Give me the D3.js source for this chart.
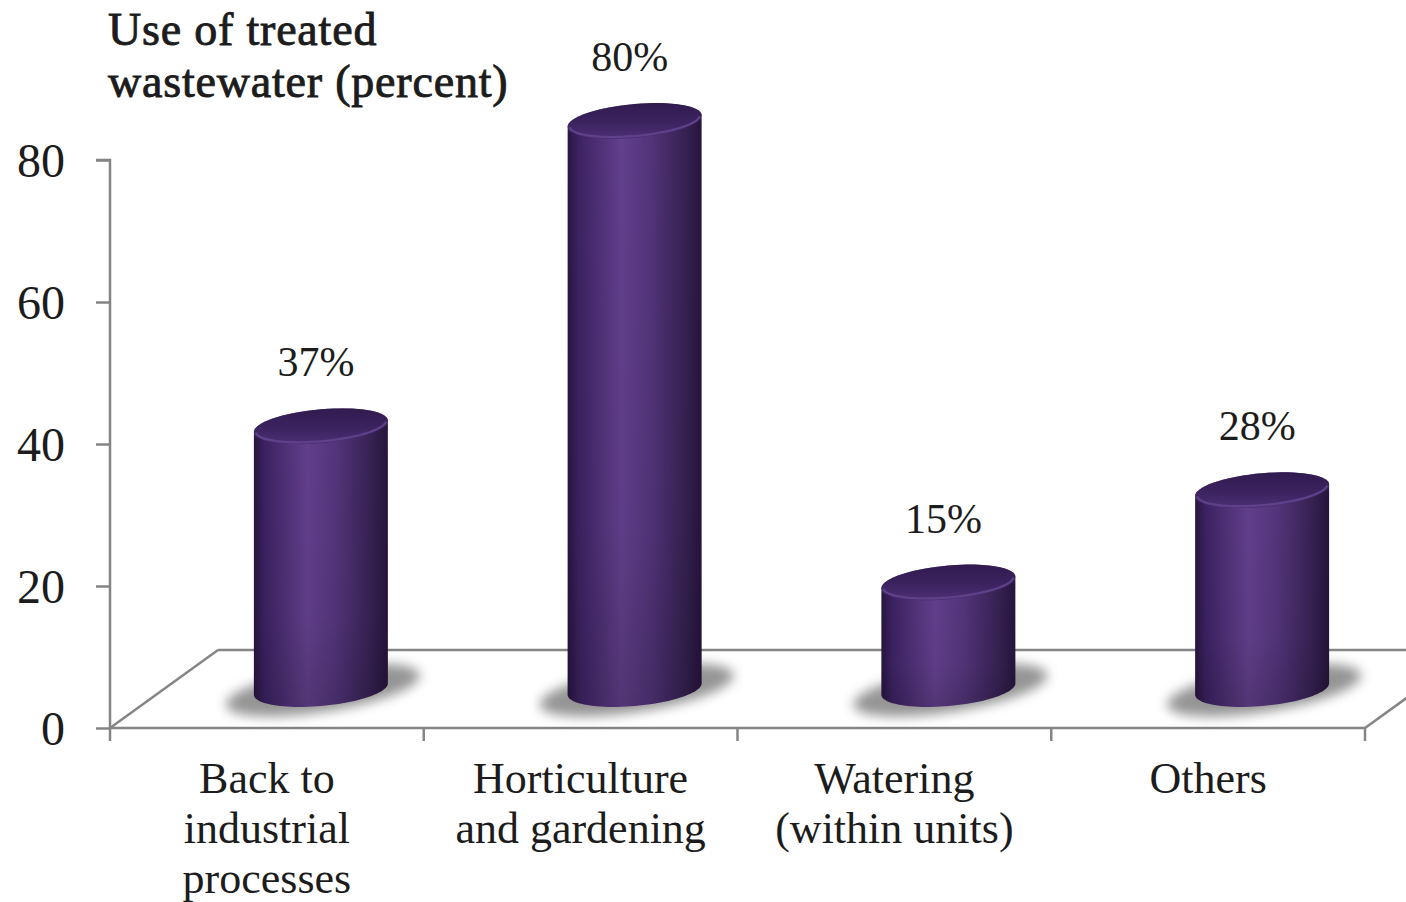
<!DOCTYPE html>
<html>
<head>
<meta charset="utf-8">
<script src="https://cdn.jsdelivr.net/npm/d3@7"></script>
<style>
  html, body { margin: 0; padding: 0; background: #ffffff; }
  svg { display: block; }
  text { font-family: "Liberation Serif", "DejaVu Serif", serif; fill: #1c1c1c; }
</style>
</head>
<body>
<svg id="chart" width="1406" height="902"></svg>
<script>
// Share of treated wastewater by use
const categories = ["Back to industrial processes", "Horticulture and gardening", "Watering (within units)", "Others"];
const categoryLines = [["Back to", "industrial", "processes"], ["Horticulture", "and gardening"], ["Watering", "(within units)"], ["Others"]];
const values = [37, 80, 15, 28];
const valueLabels = ["37%", "80%", "15%", "28%"];
const yTicks = [0, 20, 40, 60, 80];
const titleLines = ["Use of treated", "wastewater (percent)"];

const svg = d3.select("#chart");

// plot frame: front edge of the floor and the vertical axis
const left = 110, right = 1365, floorY = 728, topY = 160;
// depth vector of the 3D floor (front edge -> back edge)
const depth = { dx: 108, dy: -78 };

const x = d3.scaleBand().domain(categories).range([left, right]).padding(0);
const y = d3.scaleLinear().domain([0, 80]).range([floorY, topY]);

const axisColor = "#858585";
const defs = svg.append("defs");

// cylinder body shading (horizontal)
const bodyGrad = defs.append("linearGradient").attr("id", "bodyGrad")
  .attr("x1", "0%").attr("x2", "100%").attr("y1", "0%").attr("y2", "0%");
[["0%", "#28153f"], ["8%", "#3c2262"], ["40%", "#62408c"], ["62%", "#52347a"], ["88%", "#362151"], ["100%", "#26143c"]]
  .forEach(([o, c]) => bodyGrad.append("stop").attr("offset", o).attr("stop-color", c));

// slight darkening toward the base
const bodyShade = defs.append("linearGradient").attr("id", "bodyShade")
  .attr("x1", "0%").attr("x2", "0%").attr("y1", "0%").attr("y2", "100%");
bodyShade.append("stop").attr("offset", "0%").attr("stop-color", "#000").attr("stop-opacity", 0);
bodyShade.append("stop").attr("offset", "70%").attr("stop-color", "#000").attr("stop-opacity", 0.04);
bodyShade.append("stop").attr("offset", "100%").attr("stop-color", "#000").attr("stop-opacity", 0.16);

// top face shading
const topGrad = defs.append("linearGradient").attr("id", "topGrad")
  .attr("x1", "0%").attr("x2", "0%").attr("y1", "0%").attr("y2", "100%");
[["0%", "#301b4e"], ["60%", "#3d2462"], ["100%", "#4d3075"]]
  .forEach(([o, c]) => topGrad.append("stop").attr("offset", o).attr("stop-color", c));

// soft floor shadow
const blur = defs.append("filter").attr("id", "shadowBlur")
  .attr("x", "-50%").attr("y", "-100%").attr("width", "200%").attr("height", "300%");
blur.append("feGaussianBlur").attr("stdDeviation", 6);

const glow = defs.append("filter").attr("id", "glow")
  .attr("x", "-20%").attr("y", "-50%").attr("width", "140%").attr("height", "200%");
glow.append("feGaussianBlur").attr("stdDeviation", 3);

// ---- floor (3D base plane) ----
const floor = svg.append("g").attr("stroke", axisColor).attr("stroke-width", 2.5).attr("fill", "none");
floor.append("line").attr("x1", left).attr("y1", floorY).attr("x2", left + depth.dx).attr("y2", floorY + depth.dy);
floor.append("line").attr("x1", left + depth.dx).attr("y1", floorY + depth.dy).attr("x2", right + depth.dx).attr("y2", floorY + depth.dy);
floor.append("line").attr("x1", right).attr("y1", floorY).attr("x2", right + depth.dx).attr("y2", floorY + depth.dy);

// ---- axes ----
const yAxis = d3.axisLeft(y).tickValues(yTicks).tickSize(14).tickPadding(31).tickFormat(d3.format("d"));
const gy = svg.append("g").attr("transform", `translate(${left},0)`).call(yAxis);
gy.select(".domain").attr("stroke", axisColor).attr("stroke-width", 2.5).attr("d", `M-14,${topY}H0V${floorY}`);
gy.selectAll(".tick line").attr("stroke", axisColor).attr("stroke-width", 2.5);
gy.selectAll(".tick text").attr("font-size", 48).attr("font-family", "Liberation Serif, serif").attr("fill", "#1c1c1c").attr("dy", "0.34em");

const xAxis = d3.axisBottom(x).tickSize(0).tickFormat("");
const gx = svg.append("g").attr("transform", `translate(0,${floorY})`).call(xAxis);
gx.select(".domain").attr("stroke", axisColor).attr("stroke-width", 2.5).attr("d", `M${left},0H${right}`);
// category boundary ticks
const bounds = categories.map(c => x(c)).concat([right]);
gx.selectAll(".bound").data(bounds).join("line").attr("class", "bound")
  .attr("x1", d => d).attr("x2", d => d).attr("y1", 0).attr("y2", 13)
  .attr("stroke", axisColor).attr("stroke-width", 2.5);

// category labels
const catG = svg.append("g");
categories.forEach((c, i) => {
  const t = catG.append("text").attr("text-anchor", "middle").attr("font-size", 44)
    .attr("x", x(c) + x.bandwidth() / 2).attr("y", 793);
  categoryLines[i].forEach((ln, j) => {
    t.append("tspan").attr("x", x(c) + x.bandwidth() / 2).attr("dy", j === 0 ? 0 : 50).text(ln);
  });
});

// ---- cylinders ----
const rx = x.bandwidth() * 0.2135;  // cylinder radius on screen
const ry = 17;                       // ellipse half-height
const tilt = 0.085;                  // tilt of the elliptic faces
const baseOffsetY = depth.dy / 2, baseOffsetX = depth.dx / 2;

function ePt(cx, cy, t, r = rx, q = ry, s = tilt) {
  return [cx + r * Math.cos(t), cy + q * Math.sin(t) - s * r * Math.cos(t)];
}
function arcPts(cx, cy, t0, t1, n = 48, r, q, s) {
  const pts = [];
  for (let k = 0; k <= n; k++) pts.push(ePt(cx, cy, t0 + (t1 - t0) * k / n, r, q, s));
  return pts;
}
const line = d3.line();
const lineClosed = d3.line().curve(d3.curveLinearClosed);

const bars = svg.append("g");
categories.forEach((c, i) => {
  const cx = x(c) + x.bandwidth() / 2 + baseOffsetX;
  const yb = y(0) + baseOffsetY;
  const yt = y(values[i]) + baseOffsetY;
  const g = bars.append("g");

  // floor shadow
  g.append("path")
    .attr("d", lineClosed(arcPts(cx + 2, yb + 1, 0, 2 * Math.PI, 64, rx + 30, ry + 5, 0.15)))
    .attr("fill", "#7a7a7a").attr("opacity", 0.8).attr("filter", "url(#shadowBlur)");

  // body: left side, front of the base, right side, back of the top
  const body = [[cx - rx, yt + tilt * rx]]
    .concat(arcPts(cx, yb, Math.PI, 0))
    .concat(arcPts(cx, yt, 0, -Math.PI));
  g.append("path").attr("d", lineClosed(body)).attr("fill", "url(#bodyGrad)");
  g.append("path").attr("d", lineClosed(body)).attr("fill", "url(#bodyShade)");

  // soft light halo round the top
  g.append("path").attr("d", lineClosed(arcPts(cx, yt - 2, Math.PI, 2 * Math.PI, 48)))
    .attr("fill", "none").attr("stroke", "#ffffff").attr("stroke-width", 4).attr("opacity", 0.6).attr("filter", "url(#glow)");

  // top face
  g.append("path").attr("d", lineClosed(arcPts(cx, yt, 0, 2 * Math.PI, 64))).attr("fill", "url(#topGrad)");
  // lighter front rim of the top face
  g.append("path").attr("d", line(arcPts(cx, yt, 0.05, Math.PI - 0.05, 40, rx - 2, ry - 2)))
    .attr("fill", "none").attr("stroke", "#62448d").attr("stroke-width", 2.2).attr("opacity", 0.9);

  // value label
  svg.append("text").attr("text-anchor", "middle").attr("font-size", 42)
    .attr("x", cx - 5).attr("y", yt - 50).text(valueLabels[i]);
});

// ---- title (two separate lines) ----
const titleBaselines = [45, 97];
svg.append("g").selectAll("text").data(titleLines).join("text")
  .attr("x", 108).attr("y", (d, j) => titleBaselines[j])
  .attr("font-size", 46).attr("letter-spacing", 0.8)
  .attr("stroke", "#1c1c1c").attr("stroke-width", 0.9)
  .text(d => d);
</script>
</body>
</html>
